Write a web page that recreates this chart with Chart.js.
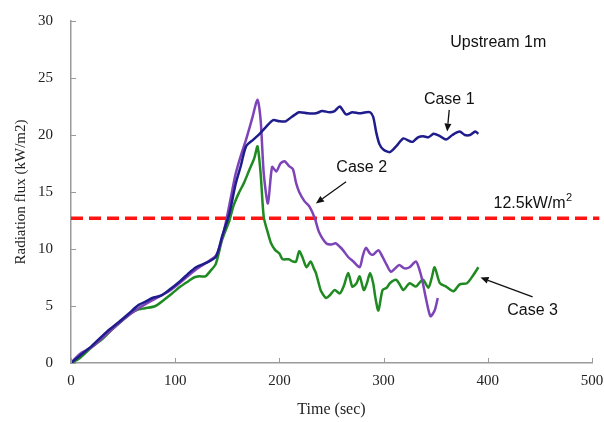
<!DOCTYPE html>
<html>
<head>
<meta charset="utf-8">
<script src="https://cdn.jsdelivr.net/npm/chart.js@4.4.1/dist/chart.umd.min.js"></script>
<style>
  html, body { margin: 0; padding: 0; background: #fff; }
  #wrap { width: 604px; height: 422px; position: relative; }
</style>
</head>
<body>
<div id="wrap"><canvas id="fluxChart"></canvas></div>
<script>
// time (sec) and radiation flux (kW/m2)
const case1Time = [0, 8, 20, 35, 46, 55, 65, 72, 78, 86, 94, 105, 112, 120, 130, 139, 145, 152, 158, 163, 168, 175, 181, 187, 194, 200, 206, 212, 219, 227, 235, 241, 248, 253, 258, 264, 270, 277, 283, 287, 290, 293, 296, 300, 306, 312, 319, 324, 328, 333, 338, 343, 348, 354, 360, 366, 373, 378, 383, 388, 391];
const case1Flux = [0, 0.6, 1.5, 2.8, 3.6, 4.3, 5.1, 5.4, 5.7, 5.9, 6.4, 7.2, 7.8, 8.4, 8.8, 9.3, 11.1, 13.1, 15.7, 17.3, 19.0, 19.6, 20.1, 20.7, 21.3, 21.2, 21.2, 21.6, 22.0, 21.9, 21.9, 22.1, 22.0, 22.1, 22.5, 21.8, 22.0, 21.9, 22.0, 22.0, 21.6, 20.2, 19.2, 18.7, 18.5, 19.0, 19.7, 19.5, 19.4, 19.8, 19.9, 19.8, 20.1, 19.9, 19.6, 20.0, 20.3, 20.0, 20.0, 20.3, 20.1];

const case2Time = [0, 5, 10, 20, 35, 50, 65, 78, 94, 108, 120, 130, 139, 144, 149, 154, 158, 163, 168, 174, 179, 182, 185, 189, 193, 197, 201, 205, 209, 213, 216, 219, 224, 229, 234, 238, 245, 250, 254, 258, 261, 266, 271, 277, 280, 283, 287, 290, 295, 299, 303, 307, 311, 315, 320, 325, 331, 334, 337, 341, 345, 349, 352];
const case2Flux = [0, 0.5, 0.9, 1.4, 2.6, 3.8, 4.8, 5.5, 6.3, 7.3, 8.2, 8.8, 9.4, 10.6, 12.5, 14.8, 16.6, 18.2, 19.6, 21.5, 23.1, 21.3, 16.6, 14.0, 17.2, 16.8, 17.5, 17.7, 17.3, 17.0, 15.8, 15.0, 14.2, 13.7, 12.7, 11.5, 10.5, 10.4, 10.5, 10.2, 9.9, 9.3, 8.9, 8.4, 9.4, 10.1, 9.6, 9.5, 9.9, 9.3, 8.6, 8.0, 8.3, 8.6, 8.3, 8.4, 8.9, 8.3, 7.3, 5.5, 4.1, 4.6, 5.7];

const case3Time = [0, 8, 20, 30, 39, 50, 58, 65, 71, 81, 90, 97, 105, 113, 118, 123, 129, 134, 139, 145, 152, 156, 161, 166, 171, 176, 179, 182, 185, 189, 192, 196, 200, 203, 209, 213, 216, 219, 222, 226, 230, 233, 235, 238, 240, 245, 249, 253, 258, 262, 266, 270, 274, 277, 281, 284, 287, 290, 292, 295, 299, 303, 306, 312, 316, 319, 325, 331, 335, 338, 343, 346, 349, 354, 360, 367, 373, 380, 386, 391];
const case3Flux = [0, 0.4, 1.4, 2.1, 2.9, 3.8, 4.4, 4.7, 4.8, 5.0, 5.6, 6.1, 6.7, 7.2, 7.5, 7.6, 7.6, 8.1, 8.7, 10.8, 12.5, 13.8, 14.9, 15.8, 16.9, 18.0, 19.0, 16.6, 12.8, 11.4, 10.5, 9.9, 9.6, 9.1, 9.1, 8.9, 8.9, 9.8, 9.3, 8.4, 8.9, 8.3, 7.9, 6.9, 6.3, 5.7, 6.0, 6.4, 6.1, 6.8, 7.9, 6.7, 7.0, 7.6, 6.4, 7.0, 7.9, 7.0, 5.8, 4.6, 6.4, 6.6, 7.0, 7.3, 6.8, 6.4, 7.0, 6.7, 7.1, 7.3, 6.6, 7.4, 8.4, 7.0, 6.7, 6.3, 6.9, 7.0, 7.7, 8.4];

// threshold line (drawn as in the figure, runs a bit past the axis end)
const limitTime = [0, 507];
const limitFlux = [12.7, 12.7];

const xTicks = [0, 100, 200, 300, 400, 500];
const yTicks = [0, 5, 10, 15, 20, 25, 30];

// labels and arrows, in data units
const notes = [
  { text: 'Upstream 1m', x: 410, y: 28.1 },
  { text: 'Case 1', x: 363, y: 23.1 },
  { text: 'Case 2', x: 279, y: 17.1 },
  { text: 'Case 3', x: 443, y: 4.6 },
];
const arrows = [
  { from: [363, 22.2], to: [361, 20.3] },
  { from: [264, 15.9], to: [235, 14.0] },
  { from: [443, 5.8], to: [393, 7.5] },
];

const toXY = (xs, ys) => xs.map((x, i) => ({ x, y: ys[i] }));

const SERIF = '"Liberation Serif", "DejaVu Serif", serif';
const SANS = '"Liberation Sans", Arial, sans-serif';

const innerTicks = {
  id: 'innerTicks',
  afterDraw(chart) {
    const { ctx, chartArea, scales } = chart;
    ctx.save();
    ctx.strokeStyle = '#9a9a9a';
    ctx.lineWidth = 1;
    xTicks.forEach(v => {
      const px = Math.round(scales.x.getPixelForValue(v)) + 0.5;
      ctx.beginPath();
      ctx.moveTo(px, chartArea.bottom);
      ctx.lineTo(px, chartArea.bottom - 5);
      ctx.stroke();
    });
    yTicks.forEach(v => {
      const py = Math.round(scales.y.getPixelForValue(v)) + 0.5;
      ctx.beginPath();
      ctx.moveTo(chartArea.left, py);
      ctx.lineTo(chartArea.left + 5, py);
      ctx.stroke();
    });
    ctx.restore();
  }
};

const noteLayer = {
  id: 'noteLayer',
  afterDatasetsDraw(chart) {
    const { ctx, scales: { x, y } } = chart;
    ctx.save();
    ctx.fillStyle = '#111';
    ctx.font = '16px ' + SANS;
    ctx.textAlign = 'center';
    ctx.textBaseline = 'middle';
    notes.forEach(n => ctx.fillText(n.text, x.getPixelForValue(n.x), y.getPixelForValue(n.y)));

    // threshold label with superscript
    const lx = x.getPixelForValue(405.5), ly = y.getPixelForValue(14.0);
    ctx.textAlign = 'left';
    ctx.fillText('12.5kW/m', lx, ly);
    const w = ctx.measureText('12.5kW/m').width;
    ctx.font = '11px ' + SANS;
    ctx.fillText('2', lx + w + 0.5, ly - 5);

    ctx.strokeStyle = '#111';
    ctx.lineWidth = 1.3;
    arrows.forEach(a => {
      const x0 = x.getPixelForValue(a.from[0]), y0 = y.getPixelForValue(a.from[1]);
      const x1 = x.getPixelForValue(a.to[0]), y1 = y.getPixelForValue(a.to[1]);
      const ang = Math.atan2(y1 - y0, x1 - x0);
      const hl = 8, hw = 3.5;
      const bx = x1 - hl * Math.cos(ang), by = y1 - hl * Math.sin(ang);
      ctx.beginPath();
      ctx.moveTo(x0, y0);
      ctx.lineTo(bx, by);
      ctx.stroke();
      ctx.beginPath();
      ctx.moveTo(x1, y1);
      ctx.lineTo(bx + hw * Math.sin(ang), by - hw * Math.cos(ang));
      ctx.lineTo(bx - hw * Math.sin(ang), by + hw * Math.cos(ang));
      ctx.closePath();
      ctx.fill();
    });
    ctx.restore();
  }
};

new Chart(document.getElementById('fluxChart'), {
  type: 'line',
  data: {
    datasets: [
      { label: 'Case 1', data: toXY(case1Time, case1Flux), borderColor: '#1f1c8c', borderWidth: 2.5 },
      { label: 'Case 2', data: toXY(case2Time, case2Flux), borderColor: '#7d44b8', borderWidth: 2.5 },
      { label: 'Case 3', data: toXY(case3Time, case3Flux), borderColor: '#1f8a22', borderWidth: 2.5 },
      { label: '12.5kW/m2', data: toXY(limitTime, limitFlux), borderColor: '#ff1414', borderWidth: 3.5, borderDash: [12, 6], clip: false, tension: 0 },
    ],
  },
  options: {
    responsive: true, maintainAspectRatio: false, animation: false,
    elements: { point: { radius: 0 }, line: { tension: 0.25, fill: false } },
    layout: { padding: { top: 21, right: 12, left: 0, bottom: 0 } },
    plugins: { legend: { display: false }, tooltip: { enabled: false } },
    scales: {
      x: {
        type: 'linear', min: 0, max: 500,
        afterFit: s => { s.height = 59; s.paddingLeft = 0; s.paddingRight = 0; },
        afterBuildTicks: s => { s.ticks = xTicks.map(v => ({ value: v })); },
        grid: { display: false, drawTicks: false },
        border: { display: true, color: '#9a9a9a', width: 1.5 },
        ticks: { padding: 9, color: '#222', font: { family: SERIF, size: 15 }, maxRotation: 0 },
        title: { display: true, text: 'Time (sec)', color: '#222', font: { family: SERIF, size: 16 }, padding: { top: 0, bottom: 3 } },
      },
      y: {
        type: 'linear', min: 0, max: 30,
        afterFit: s => { s.width = 71; s.paddingTop = 0; s.paddingBottom = 0; },
        afterBuildTicks: s => { s.ticks = yTicks.map(v => ({ value: v })); },
        grid: { display: false, drawTicks: false },
        border: { display: true, color: '#9a9a9a', width: 1.5 },
        ticks: { padding: 18, color: '#222', font: { family: SERIF, size: 15 } },
        title: { display: true, text: 'Radiation flux (kW/m2)', color: '#222', font: { family: SERIF, size: 15 }, padding: { top: 12, bottom: 0 } },
      },
    },
  },
  plugins: [innerTicks, noteLayer],
});
</script>
</body>
</html>
